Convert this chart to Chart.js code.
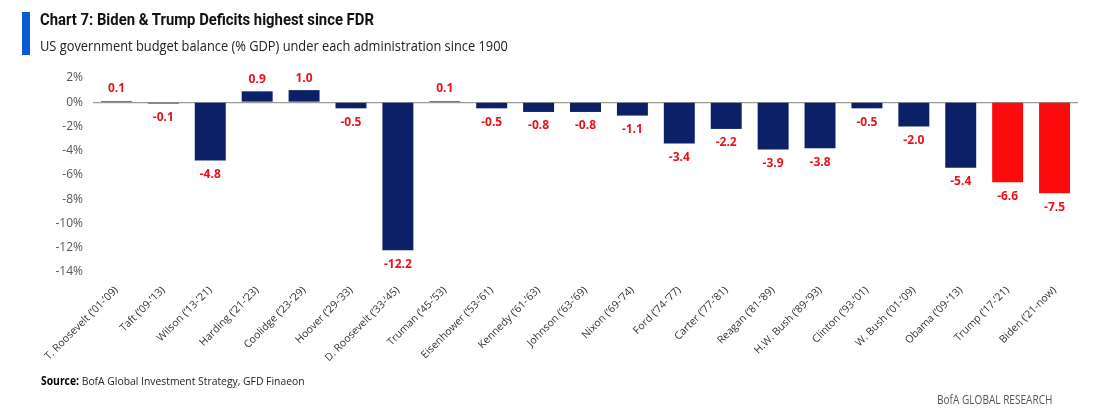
<!DOCTYPE html>
<html>
<head>
<meta charset="utf-8">
<script src="https://cdn.jsdelivr.net/npm/chart.js@4.4.0/dist/chart.umd.min.js"></script>
<style>
  html, body { margin: 0; padding: 0; background: #fff; }
  body { width: 1100px; height: 419px; position: relative; overflow: hidden; font-family: "Open Sans", sans-serif; }
  #wrap { position: absolute; left: 0; top: 0; width: 1100px; height: 419px; }
  .accent { position: absolute; left: 22px; top: 12px; width: 8px; height: 43px; background: #0a5bd3; }
  .title { position: absolute; left: 40px; top: 10px; font-family: "Roboto", sans-serif; font-weight: bold; font-size: 16.5px; color: #111; white-space: nowrap; transform: scaleX(0.9); transform-origin: left top; }
  .subtitle { position: absolute; left: 40px; top: 35px; font-size: 15px; color: #222; white-space: nowrap; transform: scaleX(0.855); transform-origin: left top; }
  .source { position: absolute; left: 41px; top: 373px; font-size: 11.5px; color: #222; white-space: nowrap; transform: scaleX(0.9); transform-origin: left top; }
  .source b { color: #000; }
  .brand { position: absolute; right: 48px; top: 391px; font-size: 12px; color: #555; white-space: nowrap; transform: scaleX(0.84); transform-origin: right top; }
</style>
</head>
<body>
<div id="wrap"><canvas id="deficitChart"></canvas></div>
<div class="accent"></div>
<div class="title">Chart 7: Biden &amp; Trump Deficits highest since FDR</div>
<div class="subtitle">US government budget balance (% GDP) under each administration since 1900</div>
<div class="source"><b>Source:</b> BofA Global Investment Strategy, GFD Finaeon</div>
<div class="brand">BofA GLOBAL RESEARCH</div>

<script>
// ========================================
// DATA
// ========================================
const presidents = [
    "T. Roosevelt (’01-’09)", "Taft (’09-’13)", "Wilson (’13-’21)", "Harding (’21-’23)",
    "Coolidge (’23-’29)", "Hoover (’29-’33)", "D. Roosevelt (’33-’45)", "Truman (’45-’53)",
    "Eisenhower (’53-’61)", "Kennedy (’61-’63)", "Johnson (’63-’69)", "Nixon (’69-’74)",
    "Ford (’74-’77)", "Carter (’77-’81)", "Reagan (’81-’89)", "H.W. Bush (’89-’93)",
    "Clinton (’93-’01)", "W. Bush (’01-’09)", "Obama (’09-’13)", "Trump (’17-’21)", "Biden (’21-now)"
];

const budgetBalance = [0.1, -0.1, -4.8, 0.9, 1.0, -0.5, -12.2, 0.1, -0.5, -0.8, -0.8, -1.1,
    -3.4, -2.2, -3.9, -3.8, -0.5, -2.0, -5.4, -6.6, -7.5];

const highlighted = ["Trump (’17-’21)", "Biden (’21-now)"];

const yTicks = [2, 0, -2, -4, -6, -8, -10, -12, -14];

const NAVY = '#0b2066';
const RED = '#fb0b0b';
const LABEL_RED = '#e8121c';

// ========================================
// VALUE LABEL PLUGIN
// ========================================
const valueLabels = {
    id: 'valueLabels',
    afterDatasetsDraw(chart) {
        const ctx = chart.ctx;
        const meta = chart.getDatasetMeta(0);
        ctx.save();
        ctx.font = 'bold 12px "Open Sans", sans-serif';
        ctx.fillStyle = LABEL_RED;
        ctx.textAlign = 'center';
        ctx.textBaseline = 'middle';
        meta.data.forEach((bar, i) => {
            const v = budgetBalance[i];
            const y = v >= 0 ? bar.y - 12 : bar.y + 14;
            ctx.fillText(v.toFixed(1), bar.x, y);
        });
        ctx.restore();
    }
};

// ========================================
// CHART
// ========================================
const ctx = document.getElementById('deficitChart').getContext('2d');

new Chart(ctx, {
    type: 'bar',
    data: {
        labels: presidents,
        datasets: [{
            data: budgetBalance,
            backgroundColor: presidents.map(p => highlighted.includes(p) ? RED : NAVY),
            barPercentage: 0.66,
            categoryPercentage: 1.0
        }]
    },
    options: {
        responsive: true,
        maintainAspectRatio: false,
        animation: false,
        layout: { padding: { top: 78, right: 22, left: 0, bottom: 0 } },
        plugins: {
            legend: { display: false },
            tooltip: { enabled: false }
        },
        scales: {
            y: {
                min: -14,
                max: 2,
                afterBuildTicks: axis => { axis.ticks = yTicks.map(v => ({ value: v })); },
                afterFit: axis => { axis.width = 93; },
                border: { display: false },
                grid: {
                    drawTicks: false,
                    color: c => (c.tick && c.tick.value === 0) ? '#9a9a9a' : 'rgba(0,0,0,0)',
                    lineWidth: 1.2
                },
                ticks: {
                    padding: 10,
                    color: '#555',
                    font: { size: 12, family: '"Open Sans", sans-serif' },
                    callback: v => v + '%'
                }
            },
            x: {
                afterFit: axis => { axis.height = 147; },
                border: { display: false },
                grid: { display: false },
                ticks: {
                    autoSkip: false,
                    maxRotation: 45,
                    minRotation: 45,
                    padding: 4,
                    color: '#333',
                    font: { size: 10.5, family: '"Open Sans", sans-serif' }
                }
            }
        }
    },
    plugins: [valueLabels]
});
</script>
</body>
</html>
